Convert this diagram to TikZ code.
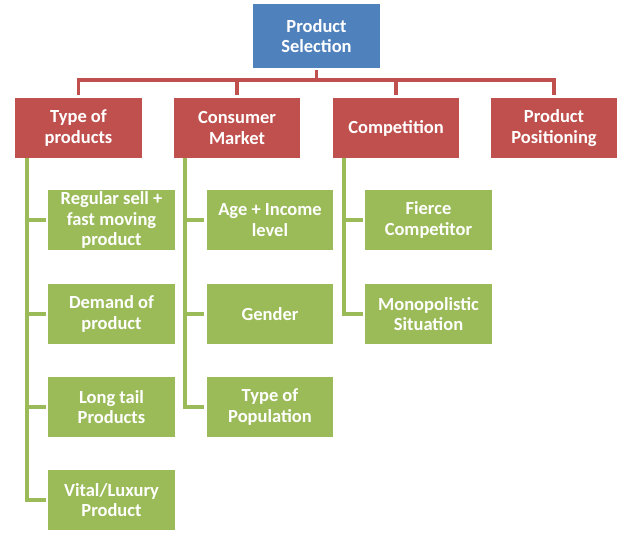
\documentclass[tikz,border=0pt]{standalone}
\usepackage{fontspec}
\setmainfont{Carlito}
\usetikzlibrary{shadows}
\definecolor{selblue}{HTML}{4F81BD}
\definecolor{selred}{HTML}{C0504D}
\definecolor{selgreen}{HTML}{9BBB59}
\begin{document}
\begin{tikzpicture}[x=1pt, y=-1pt, align=center,
    box/.style={draw=white, line width=2.5pt, rectangle, text=white,
      font=\fontsize{18.5}{20.5}\selectfont\bfseries, minimum width=129pt, minimum height=63pt,
      inner sep=0pt, drop shadow={opacity=0.25, shadow xshift=1pt, shadow yshift=-1.2pt}},
    rootbox/.style={box, fill=selblue, minimum height=66pt},
    topicbox/.style={box, fill=selred},
    itembox/.style={box, fill=selgreen},
    redline/.style={draw=selred, line width=3.2pt},
    greenline/.style={draw=selgreen, line width=3.2pt}]
      \useasboundingbox (0,0) rectangle (633,542);
      % connectors
      \coordinate (bus) at (316.5,80);
      \coordinate (tp) at (27,158);
      \coordinate (cm) at (185,158);
      \coordinate (cp) at (344,158);
      %
      \node[rootbox] (root) at (316.5,36) {Product\\Selection};
      \node[topicbox] (type) at (78.5,128) {Type of\\products};
      \node[topicbox] (cons) at (237,128) {Consumer\\Market};
      \node[topicbox] (comp) at (396,128) {Competition};
      \node[topicbox] (pos) at (554,128) {Product\\Positioning};
      %
      \draw[redline] (root.south) -- (bus) -| (type.north);
      \draw[redline] (bus) -| (cons.north);
      \draw[redline] (bus) -| (comp.north);
      \draw[redline] (bus) -| (pos.north);
      %
      \node[itembox] (regular) at (111.5,220) {Regular sell +\\fast moving\\product};
      \node[itembox] (demand) at (111.5,314) {Demand of\\product};
      \node[itembox] (longtail) at (111.5,407) {Long tail\\Products};
      \node[itembox] (vital) at (111.5,500) {Vital/Luxury\\Product};
      %
      \node[itembox] (age) at (270,220) {Age + Income\\level};
      \node[itembox] (gender) at (270,314) {Gender};
      \node[itembox] (popul) at (270,407) {Type of\\Population};
      %
      \node[itembox] (fierce) at (428.5,220) {Fierce\\Competitor};
      \node[itembox] (mono) at (428.5,314) {Monopolistic\\Situation};
      %
      \draw[greenline] (tp) |- (regular.west);
      \draw[greenline] (tp) |- (demand.west);
      \draw[greenline] (tp) |- (longtail.west);
      \draw[greenline] (tp) |- (vital.west);
      \draw[greenline] (cm) |- (age.west);
      \draw[greenline] (cm) |- (gender.west);
      \draw[greenline] (cm) |- (popul.west);
      \draw[greenline] (cp) |- (fierce.west);
      \draw[greenline] (cp) |- (mono.west);
    \end{tikzpicture}
\end{document}
